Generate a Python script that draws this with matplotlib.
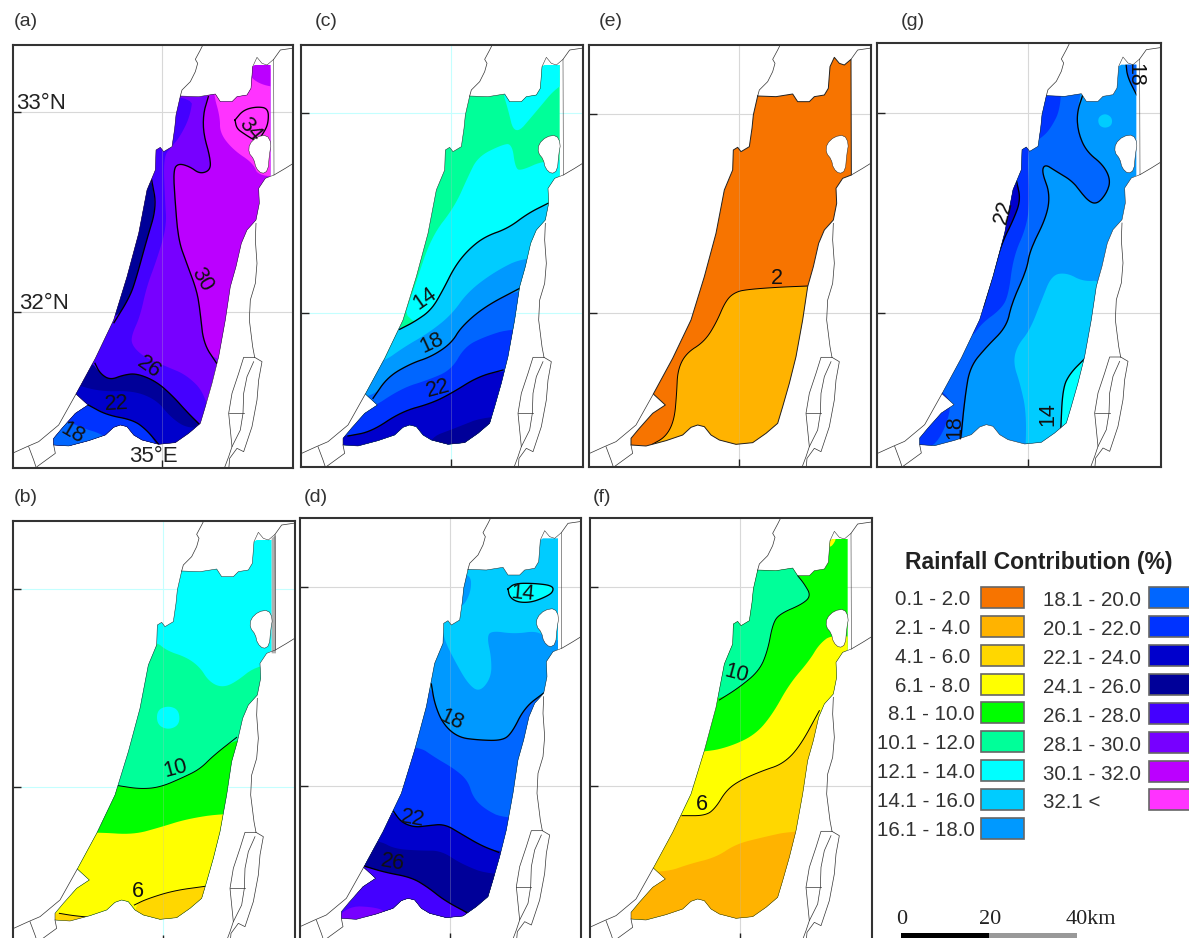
import numpy as np
import matplotlib
matplotlib.use('Agg')
import matplotlib.pyplot as plt
from matplotlib.patches import Polygon, Rectangle

plt.rcParams['font.family'] = ['Liberation Sans', 'DejaVu Sans']

# Rainfall classes, used by the maps and by the legend.
CLASS_LABELS = ['0.1 - 2.0', '2.1 - 4.0', '4.1 - 6.0', '6.1 - 8.0', '8.1 - 10.0',
    '10.1 - 12.0', '12.1 - 14.0', '14.1 - 16.0', '16.1 - 18.0', '18.1 - 20.0',
    '20.1 - 22.0', '22.1 - 24.0', '24.1 - 26.0', '26.1 - 28.0', '28.1 - 30.0',
    '30.1 - 32.0', '32.1 <']
CLASS_COLORS = ['#F77400', '#FFB300', '#FFD700', '#FFFF00', '#00FF00', '#00FF99',
    '#00FFFF', '#00CCFF', '#0099FF', '#0066FF', '#0033FF', '#0000CC', '#000099',
    '#4400FF', '#7700FF', '#BB00FF', '#FF33FF']

# Country outline, map units are 3 per image pixel.
BORDER_HEAD = [(545, 288), (600, 290), (650, 282), (665, 305), (700, 305), (715, 290),
    (745, 285), (757, 265), (762, 200)]
BORDER_NE_FULL = [(775, 172), (790, 190), (805, 195), (825, 178), (826, 525)]
BORDER_NE_CUT = [(770, 195), (815, 195), (815, 528)]
BORDER_TAIL = [(800, 535), (780, 565), (782, 610), (772, 660), (745, 690), (728, 730),
    (712, 800), (695, 860), (680, 960), (660, 1070), (640, 1150), (620, 1220), (605, 1270),
    (570, 1300), (530, 1328), (480, 1333), (430, 1320), (405, 1305), (385, 1280), (365, 1275),
    (345, 1282), (320, 1305), (270, 1322), (210, 1338), (165, 1335), (165, 1315), (190, 1285),
    (230, 1240), (268, 1215), (232, 1182), (290, 1075), (345, 960), (385, 830), (420, 700),
    (445, 570), (470, 510), (472, 450), (485, 442), (495, 455), (520, 440), (528, 385),
    (532, 345)]
LAKE = [(752, 432), (775, 410), (805, 405), (818, 430), (812, 465), (808, 512), (790, 522),
    (772, 505), (766, 478), (750, 458)]
BASE_LINES = [
    [(545, 288), (550, 270), (575, 245), (590, 215), (597, 190), (590, 178), (605, 150), (615, 130)],
    [(825, 178), (845, 150), (900, 142)],
    [(826, 525), (860, 505), (900, 480)],
    [(772, 670), (770, 720), (775, 790), (770, 850), (755, 900), (752, 960), (762, 1040), (768, 1072)],
    [(768, 1072), (735, 1072), (720, 1120), (700, 1180), (690, 1240), (695, 1290), (700, 1340),
     (690, 1370), (675, 1410)],
    [(768, 1072), (790, 1085), (780, 1140), (775, 1200), (760, 1280), (745, 1325), (735, 1355),
     (715, 1345), (693, 1375), (690, 1410)],
    [(765, 1085), (745, 1130), (735, 1180), (733, 1240), (725, 1290), (700, 1340)],
    [(690, 1240), (735, 1240)],
    [(232, 1182), (180, 1275), (120, 1325), (85, 1340), (30, 1365)],
    [(90, 1340), (105, 1380), (115, 1410)],
    [(115, 1400), (170, 1360), (165, 1335)],
]

# (a) filled classes, painted in order
BANDS_A = [
    (13, [(580, 280), (570, 350), (540, 410), (515, 440), (490, 470), (495, 600), (500, 680),
          (470, 780), (440, 860), (420, 950), (395, 1005), (395, 1035), (430, 1070), (500, 1100),
          (560, 1125), (615, 1180), (640, 1300), (100, 1400), (100, 280)]),
    (12, [(445, 500), (470, 620), (440, 720), (410, 830), (390, 890), (342, 968), (100, 968), (100, 500)]),
    (15, [(625, 280), (610, 340), (610, 400), (630, 470), (632, 510), (600, 522), (570, 500),
          (535, 490), (520, 510), (525, 600), (535, 720), (560, 790), (590, 870), (600, 930),
          (610, 1030), (650, 1090), (900, 1090), (900, 190), (625, 190)]),
    (16, [(640, 280), (660, 350), (660, 400), (700, 450), (760, 490), (775, 530), (900, 530),
          (900, 190), (640, 190)]),
    (15, [(740, 190), (750, 235), (805, 262), (900, 262), (900, 190)]),
    (12, [(270, 1080), (300, 1120), (330, 1140), (370, 1125), (410, 1120), (470, 1145), (520, 1190),
          (560, 1235), (620, 1290), (620, 1400), (100, 1400), (100, 1080)]),
    (11, [(215, 1150), (300, 1175), (400, 1172), (470, 1200), (510, 1250), (560, 1285), (620, 1280),
          (620, 1400), (100, 1400), (100, 1150)]),
    (10, [(250, 1205), (320, 1245), (400, 1260), (440, 1290), (475, 1340), (475, 1400), (100, 1400),
          (100, 1205)]),
    (9, [(195, 1260), (250, 1285), (300, 1300), (335, 1325), (335, 1400), (100, 1400), (100, 1260)]),
]
LINES_A = [
    [(625, 290), (610, 340), (610, 400), (630, 470), (632, 510), (600, 522), (570, 500), (535, 490),
     (520, 510), (525, 600), (535, 720), (560, 790), (590, 870), (600, 930), (610, 1030), (650, 1090)],
    [(705, 360), (730, 330), (770, 320), (805, 325), (805, 370), (790, 400), (770, 425), (730, 400),
     (710, 385), (705, 360)],
    [(455, 540), (470, 620), (440, 720), (410, 830), (390, 890), (342, 968)],
    [(285, 1090), (300, 1120), (330, 1140), (370, 1125), (410, 1120), (470, 1145), (520, 1190),
     (560, 1235), (600, 1275)],
    [(265, 1215), (320, 1245), (400, 1260), (440, 1290), (475, 1332)],
]
LABELS_A = [('34', 750, 388, -50), ('30', 605, 838, -60), ('26', 447, 1103, -35),
    ('22', 350, 1213, 3), ('18', 218, 1300, -30)]

# (c)
BANDS_C = [
    (6, [(335, 990), (380, 860), (430, 710), (500, 620), (540, 530), (570, 470), (640, 435), (672, 430),
         (682, 505), (700, 512), (770, 480), (900, 480), (900, 1000)]),
    (6, [(645, 280), (658, 320), (680, 410), (740, 340), (815, 250), (900, 230), (900, 150), (645, 150)]),
    (7, [(335, 988), (380, 965), (430, 930), (465, 870), (500, 800), (540, 750), (590, 710), (660, 685),
         (720, 640), (780, 610), (900, 610), (900, 1400), (200, 1400), (200, 988)]),
    (8, [(280, 1090), (350, 1040), (420, 1000), (490, 945), (540, 875), (620, 815), (710, 770), (900, 770),
         (900, 1400), (200, 1400), (200, 1090)]),
    (9, [(255, 1195), (300, 1130), (370, 1090), (430, 1070), (490, 1030), (520, 980), (590, 920), (695, 865),
         (900, 865), (900, 1400), (100, 1400), (100, 1195)]),
    (10, [(235, 1235), (340, 1165), (420, 1140), (490, 1110), (530, 1040), (590, 1010), (670, 985),
          (900, 985), (900, 1400), (100, 1400), (100, 1235)]),
    (11, [(180, 1308), (250, 1295), (340, 1235), (430, 1210), (490, 1180), (570, 1130), (645, 1110),
          (900, 1110), (900, 1400), (100, 1400), (100, 1308)]),
    (12, [(420, 1315), (500, 1285), (600, 1245), (900, 1245), (900, 1400), (420, 1400)]),
]
LINES_C = [
    [(335, 988), (380, 965), (430, 930), (465, 870), (500, 800), (540, 750), (590, 710), (660, 685),
     (720, 640), (780, 610)],
    [(255, 1195), (300, 1130), (370, 1090), (430, 1070), (490, 1030), (520, 980), (590, 920), (695, 865)],
    [(180, 1308), (250, 1295), (340, 1235), (430, 1210), (490, 1180), (570, 1130), (645, 1110)],
]
LABELS_C = [('14', 410, 897, 35), ('18', 430, 1028, 25), ('22', 450, 1165, 15)]

# (e)
BANDS_E = [
    (1, [(225, 1335), (270, 1310), (295, 1260), (302, 1180), (305, 1110), (330, 1060), (385, 1025),
         (420, 970), (450, 900), (480, 875), (520, 868), (600, 862), (695, 858), (900, 858), (900, 1400),
         (225, 1400)]),
]
LINES_E = [
    [(225, 1335), (270, 1310), (295, 1260), (302, 1180), (305, 1110), (330, 1060), (385, 1025),
     (420, 970), (450, 900), (480, 875), (520, 868), (600, 862), (695, 858)],
]
LABELS_E = [('2', 603, 835, 0)]

# (b)
BANDS_B = [
    (5, [(465, 500), (500, 530), (560, 550), (600, 580), (625, 620), (660, 640), (700, 630), (775, 570),
         (900, 570), (900, 1400), (300, 1400), (300, 500)]),
    (6, [(505, 695), (537, 708), (539, 752), (505, 768), (471, 752), (471, 708)]),
    (4, [(355, 935), (420, 945), (480, 940), (550, 910), (600, 885), (640, 845), (710, 790), (900, 790),
         (900, 1400), (200, 1400), (200, 935)]),
    (3, [(295, 1075), (400, 1082), (480, 1060), (560, 1035), (670, 1018), (900, 1018), (900, 1400),
         (100, 1400), (100, 1075)]),
    (2, [(403, 1293), (440, 1275), (520, 1250), (615, 1237), (900, 1237), (900, 1400), (403, 1400)]),
    (2, [(178, 1318), (220, 1325), (272, 1330), (272, 1400), (100, 1400), (100, 1318)]),
]
LINES_B = [
    [(355, 935), (420, 945), (480, 940), (550, 910), (600, 885), (640, 845), (710, 790)],
    [(403, 1293), (440, 1275), (520, 1250), (615, 1237)],
    [(178, 1318), (220, 1325), (272, 1330)],
]
LABELS_B = [('10', 528, 885, 15), ('6', 415, 1253, 0)]

# (d)
BANDS_D = [
    (8, [(548, 300), (550, 350), (525, 400), (490, 400), (490, 300)]),
    (8, [(460, 450), (470, 500), (500, 560), (540, 630), (575, 655), (610, 610), (610, 550), (597, 490),
         (610, 470), (680, 480), (750, 470), (780, 500), (900, 500), (900, 1400), (200, 1400), (200, 450)]),
    (6, [(660, 345), (680, 328), (740, 328), (795, 335), (795, 355), (770, 370), (730, 385), (690, 385),
         (665, 370)]),
    (9, [(430, 630), (440, 690), (465, 750), (510, 790), (570, 798), (640, 800), (670, 780), (710, 700),
         (770, 655), (900, 640), (900, 1400), (200, 1400), (200, 630)]),
    (10, [(390, 815), (440, 850), (500, 885), (540, 920), (555, 970), (590, 1005), (650, 1035), (900, 1035),
          (900, 1400), (200, 1400), (200, 815)]),
    (11, [(315, 1010), (340, 1045), (380, 1060), (420, 1055), (470, 1050), (520, 1080), (580, 1115),
          (632, 1135), (900, 1135), (900, 1400), (200, 1400), (200, 1010)]),
    (12, [(275, 1100), (320, 1125), (400, 1130), (460, 1130), (520, 1170), (610, 1205), (900, 1205),
          (900, 1400), (200, 1400), (200, 1100)]),
    (13, [(225, 1175), (290, 1195), (370, 1210), (420, 1240), (470, 1280), (545, 1320), (600, 1400),
          (100, 1400), (100, 1175)]),
    (14, [(170, 1295), (270, 1300), (300, 1320), (200, 1400), (100, 1400)]),
]
LINES_D = [
    [(660, 345), (680, 328), (740, 328), (795, 335), (795, 355), (770, 370), (730, 385), (690, 385),
     (665, 370), (660, 345)],
    [(430, 630), (440, 690), (465, 750), (510, 790), (570, 798), (640, 800), (670, 780), (710, 700), (770, 655)],
    [(315, 1010), (340, 1045), (380, 1060), (420, 1055), (470, 1050), (520, 1080), (580, 1115), (632, 1135)],
    [(225, 1175), (290, 1195), (370, 1210), (420, 1240), (470, 1280), (545, 1320)],
]
LABELS_D = [('14', 705, 358, -5), ('18', 490, 737, -25), ('22', 375, 1033, -10), ('26', 315, 1165, -10)]

# (f)
BANDS_F = [
    (5, [(430, 678), (490, 640), (550, 590), (575, 530), (590, 450), (610, 420), (680, 390), (705, 365),
         (685, 330), (665, 305), (650, 250), (300, 250), (300, 678)]),
    (3, [(390, 835), (470, 815), (540, 780), (590, 720), (640, 630), (700, 560), (730, 510), (770, 480),
         (900, 500), (900, 1400), (200, 1400), (200, 835)]),
    (3, [(762, 225), (785, 190), (760, 170), (750, 200)]),
    (2, [(318, 1025), (390, 1025), (420, 1000), (450, 950), (490, 920), (560, 890), (620, 870), (670, 820),
         (730, 710), (900, 710), (900, 1400), (200, 1400), (200, 1025)]),
    (1, [(270, 1195), (340, 1170), (420, 1150), (480, 1110), (560, 1090), (650, 1070), (900, 1070),
         (900, 1400), (100, 1400), (100, 1195)]),
]
LINES_F = [
    [(430, 678), (490, 640), (550, 590), (575, 530), (590, 450), (610, 420), (680, 390), (705, 365),
     (685, 330), (665, 305)],
    [(318, 1025), (390, 1025), (420, 1000), (450, 950), (490, 920), (560, 890), (620, 870), (670, 820), (730, 710)],
]
LABELS_F = [('10', 480, 600, -15), ('6', 378, 990, 0)]

# (g)
BANDS_G = [
    (9, [(640, 150), (620, 250), (625, 310), (650, 365), (700, 405), (722, 450), (710, 490), (680, 524),
         (650, 510), (610, 455), (560, 425), (525, 402), (515, 425), (540, 490), (530, 560), (480, 660),
         (470, 720), (425, 820), (410, 890), (350, 950), (300, 1010), (285, 1100), (272, 1300), (100, 1300),
         (100, 150)]),
    (10, [(575, 150), (570, 240), (545, 290), (520, 320), (470, 350), (480, 500), (470, 590), (430, 680),
          (415, 800), (390, 840), (335, 880), (300, 930), (100, 930), (100, 150)]),
    (10, [(215, 1075), (250, 1130), (195, 1260), (100, 1260), (100, 1075)]),
    (11, [(440, 440), (452, 510), (430, 570), (395, 640), (370, 730), (335, 840), (100, 840), (100, 440)]),
    (7, [(545, 735), (590, 728), (640, 755), (700, 750), (680, 900), (640, 1000), (600, 1120), (590, 1300),
         (465, 1300), (470, 1150), (450, 1060), (430, 1000), (440, 950), (480, 900), (515, 810)]),
    (6, [(645, 985), (600, 1030), (578, 1075), (572, 1205), (620, 1205), (700, 1100), (700, 985)]),
    (7, [(705, 250), (726, 262), (726, 286), (705, 295), (686, 286), (684, 262)]),
    (9, [(768, 80), (772, 140), (800, 195), (860, 195), (860, 80)]),
]
LINES_G = [
    [(640, 190), (620, 250), (625, 310), (650, 365), (700, 405), (722, 450), (710, 490), (680, 524),
     (650, 510), (610, 455), (560, 425), (525, 402), (515, 425), (540, 490), (530, 560), (480, 660),
     (470, 720), (425, 820), (410, 890), (350, 950), (300, 1010), (285, 1100), (272, 1228)],
    [(440, 455), (452, 510), (430, 570), (395, 640), (370, 730), (340, 830)],
    [(645, 985), (600, 1030), (578, 1075), (572, 1205)],
    [(768, 100), (772, 140), (800, 195)],
]
LABELS_G = [('22', 402, 545, 75), ('14', 535, 1152, 90), ('18', 255, 1190, 90), ('18', 795, 135, -90)]

# name, label x/y, frame left/right/top/bottom and crop origin in image pixels, grid x, grid y1, grid y2,
# base map offset, base class, bands, contours, contour labels, grid colour
PANELS = [
    ('(a)', 14, 22, (13.3, 292.7, 45.5, 468), (0, 0), 485, 337, 935, (-4, 0), 14, BANDS_A, LINES_A, LABELS_A, '#d8d8d8'),
    ('(c)', 315, 22, (301.3, 583, 45, 467), (288, 0), 490, 340, 938, (0, 0), 5, BANDS_C, LINES_C, LABELS_C, '#c4ffff'),
    ('(e)', 599, 22, (589.3, 871, 45, 467), (576, 0), 490, 342, 938, (0, 0), 0, BANDS_E, LINES_E, LABELS_E, '#d8d8d8'),
    ('(g)', 901, 22, (877.3, 1160.7, 42.7, 467.3), (870, 30), 475, 248, 848, (-16, -91), 8, BANDS_G, LINES_G, LABELS_G, '#d8d8d8'),
    ('(b)', 14, 497, (13.3, 295, 520.5, 943), (0, 474), 490, 344, 940, (0, 3), 6, BANDS_B, LINES_B, LABELS_B, '#c4ffff'),
    ('(d)', 304, 497, (299.7, 581.3, 518, 941), (288, 474), 486, 340, 937, (-5, -2), 7, BANDS_D, LINES_D, LABELS_D, '#d8d8d8'),
    ('(f)', 593, 497, (590, 871.7, 518, 941), (576, 474), 491, 340, 937, (0, 0), 4, BANDS_F, LINES_F, LABELS_F, '#d8d8d8'),
]

W, H = 1189, 938
fig = plt.figure(figsize=(W / 100, H / 100), dpi=100)


def smooth(pts, closed=True, n=3):
    # Chaikin corner cutting, the contours in the original are round.
    p = np.array(pts, dtype=float)
    for _ in range(n):
        q = np.roll(p, -1, axis=0) if closed else p[1:]
        a = p if closed else p[:-1]
        new = np.empty((len(a) * 2, 2))
        new[0::2] = 0.75 * a + 0.25 * q
        new[1::2] = 0.25 * a + 0.75 * q
        if not closed:
            new = np.vstack([p[0], new, p[-1]])
        p = new
    return p


for panel in PANELS:
    name, lx, ly, frame, origin, gx, gy1, gy2, off, base, bands, lines, labels, gridc = panel
    left, right, top, bottom = frame
    ax = fig.add_axes([left / W, 1 - bottom / H, (right - left) / W, (bottom - top) / H])
    ax.set_xlim((left - origin[0]) * 3, (right - origin[0]) * 3)
    ax.set_ylim((bottom - origin[1]) * 3, (top - origin[1]) * 3)

    fill_border = BORDER_HEAD + (BORDER_NE_FULL if name == '(e)' else BORDER_NE_CUT) + BORDER_TAIL
    fill_xy = np.array(fill_border, dtype=float) + off
    clip = Polygon(fill_xy, closed=True, fc=CLASS_COLORS[base], ec='none', zorder=2)
    ax.add_patch(clip)

    for cls, pts in bands:
        poly = Polygon(smooth(pts), closed=True, fc=CLASS_COLORS[cls], ec='none', zorder=3)
        ax.add_patch(poly)
        poly.set_clip_path(clip)

    # Grid sits under the fills but shows faintly through them.
    ax.axvline(gx, color=gridc, lw=0.8, zorder=1)
    ax.axhline(gy1, color=gridc, lw=0.8, zorder=1)
    ax.axhline(gy2, color=gridc, lw=0.8, zorder=1)
    line, = ax.plot([gx, gx], [gy1 - 400, gy2 + 600], color='#bbbbbb', lw=0.5, alpha=0.4, zorder=4)
    line.set_clip_path(clip)

    thin = name in ('(b)', '(e)', '(f)')
    for pts in lines:
        xy = smooth(pts, closed=False)
        ln, = ax.plot(xy[:, 0], xy[:, 1], color='black', lw=0.7 if thin else 0.95, zorder=5)
        ln.set_clip_path(clip)

    lake = np.array(LAKE, dtype=float) + off
    ax.add_patch(Polygon(smooth(lake, n=1), closed=True, fc='white', ec='#222222', lw=0.35, zorder=6))

    full = np.array(BORDER_HEAD + BORDER_NE_FULL + BORDER_TAIL + BORDER_HEAD[:1], dtype=float) + off
    ax.plot(full[:, 0], full[:, 1], color='#222222', lw=0.7 if name == '(e)' else 0.35, zorder=6)
    for seg in BASE_LINES:
        xy = np.array(seg, dtype=float) + off
        ax.plot(xy[:, 0], xy[:, 1], color='#333333', lw=0.5, zorder=6)
    if name == '(b)':
        ax.add_patch(Polygon(np.array([(815, 190), (828, 180), (828, 535), (815, 535)]) + off,
            closed=True, fc='#b0b0b0', ec='none', zorder=5))

    for txt, x, y, rot in labels:
        ax.text(x, y, txt, fontsize=15.5, rotation=rot, ha='center', va='center',
            rotation_mode='anchor', color='#111111', zorder=7)

    ax.set_xticks([gx])
    ax.set_yticks([gy1, gy2])
    ax.set_xticklabels([])
    ax.set_yticklabels([])
    ax.tick_params(direction='in', length=5.5, width=1.0, color='#222222')
    for s in ax.spines.values():
        s.set_linewidth(1.5)
        s.set_color('#333333')
        s.set_zorder(8)

    fig.text(lx / W, 1 - ly / H, name, fontsize=14, color='#333333', ha='left', va='center')

    if name == '(a)':
        ax.text(122, 310, '33°N', fontsize=16, color='#222222', ha='center', va='center', zorder=7)
        ax.text(132, 910, '32°N', fontsize=16, color='#222222', ha='center', va='center', zorder=7)
        ax.text(460, 1370, '35°E', fontsize=16, color='#222222', ha='center', va='center', zorder=7)

# Legend and scale bar go on one axes in image pixels.
leg = fig.add_axes([0, 0, 1, 1], zorder=10)
leg.set_xlim(0, W)
leg.set_ylim(H, 0)
leg.axis('off')
leg.text(1039, 562, 'Rainfall Contribution (%)', fontsize=16.5, fontweight='bold',
    color='#222222', ha='center', va='center')
for i, (lab, col) in enumerate(zip(CLASS_LABELS, CLASS_COLORS)):
    if i < 9:
        y = 597.5 + i * 28.85
        leg.add_patch(Rectangle((980.5, y - 10.5), 43, 21, fc=col, ec='#666666', lw=1.2))
        tx = 975 if i >= 4 else 970
        leg.text(tx, y + 2, lab, fontsize=14.8, color='#333333', ha='right', va='center')
    else:
        y = 598 + (i - 9) * 28.85
        leg.add_patch(Rectangle((1148.5, y - 10.5), 60, 21, fc=col, ec='#666666', lw=1.2))
        leg.text(1043, y + 3, lab, fontsize=14.8, color='#333333', ha='left', va='center')

leg.add_patch(Rectangle((901, 933), 88, 8, fc='black', ec='none'))
leg.add_patch(Rectangle((989, 933), 88, 8, fc='#999999', ec='none'))
leg.text(902, 920, '0', fontfamily='Liberation Serif', fontsize=16, color='#222222', ha='center', va='center')
leg.text(990, 920, '20', fontfamily='Liberation Serif', fontsize=16, color='#222222', ha='center', va='center')
leg.text(1091, 920, '40km', fontfamily='Liberation Serif', fontsize=16, color='#222222', ha='center', va='center')

fig.savefig('out.png', dpi=100)
